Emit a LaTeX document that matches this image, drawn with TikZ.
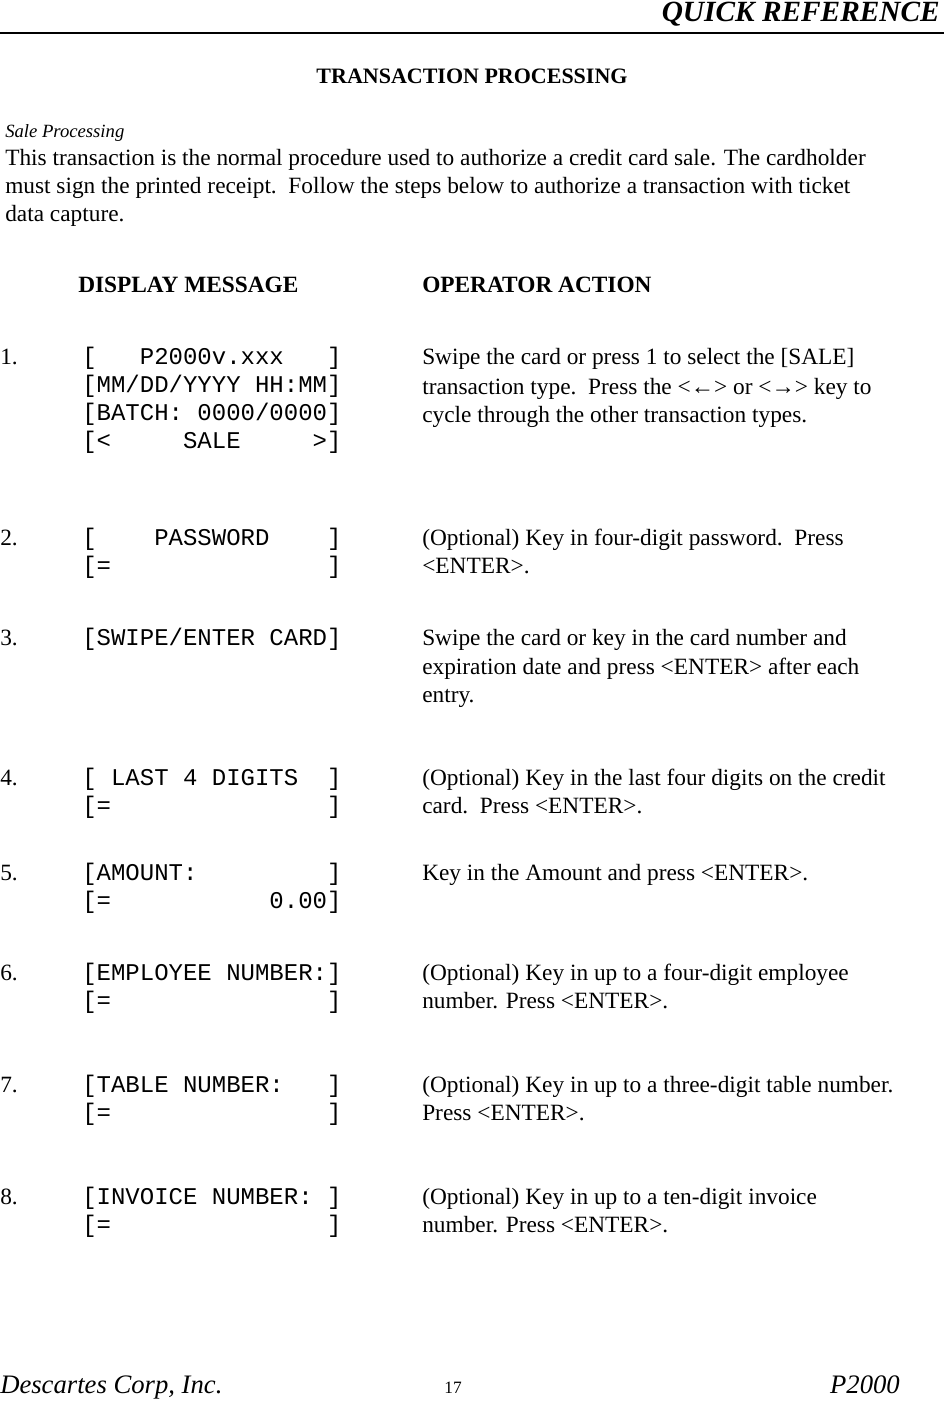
\documentclass[tikz,border=0pt]{standalone}
\usepackage{fontspec}
\setmainfont{Liberation Serif}
\setmonofont{Liberation Mono}
\begin{document}
\begin{tikzpicture}[x=0.75pt,y=-0.75pt,
  t/.style={anchor=base west,inner sep=0pt,font=\fontsize{17.5}{20}\selectfont},
  m/.style={anchor=base west,inner sep=0pt,font=\ttfamily\fontsize{18}{20}\selectfont}]
\useasboundingbox (0,0) rectangle (944,1401);
\node[anchor=base east,inner sep=0pt,font=\bfseries\itshape\fontsize{22}{24}\selectfont] (hd) at (940,22) {QUICK REFERENCE};
\draw[line width=0.8pt] (0,33) -- (944,33);
\node[anchor=base,inner sep=0pt,font=\bfseries\fontsize{16.5}{20}\selectfont] (ti) at (472,84) {TRANSACTION PROCESSING};
\node[anchor=base west,inner sep=0pt,font=\itshape\fontsize{14}{16}\selectfont] (sp) at (5,138) {Sale Processing};
\node[t] (b1) at (5,166) {This transaction is the normal procedure used to authorize a credit card sale. The cardholder};
\node[t] (b2) at (5,194) {must sign the printed receipt.\ \ Follow the steps below to authorize a transaction with ticket};
\node[t] (b3) at (5,222) {data capture.};
\node[t,font=\bfseries\fontsize{17.5}{20}\selectfont] (dm) at (78,292) {DISPLAY MESSAGE};
\node[t,font=\bfseries\fontsize{17.5}{20}\selectfont] (oa) at (422,292) {OPERATOR ACTION};
% 1
\node[t] (n1) at (0,364) {1.};
\node[m] at (82,364) {[~~~P2000v.xxx~~~]};
\node[m] at (82,392) {[MM/DD/YYYY HH:MM]};
\node[m] at (82,420) {[BATCH: 0000/0000]};
\node[m] at (82,448) {[<~~~~~SALE~~~~~>]};
\node[t] at (422,364) {Swipe the card or press 1 to select the [SALE]};
\node[t] at (422,394) {transaction type.\ \ Press the <←> or <→> key to};
\node[t] at (422,422) {cycle through the other transaction types.};
% 2
\node[t] at (0,545) {2.};
\node[m] at (82,545) {[~~~~PASSWORD~~~~]};
\node[m] at (82,573) {[=~~~~~~~~~~~~~~~]};
\node[t] at (422,545) {(Optional) Key in four-digit password.\ \ Press};
\node[t] at (422,573) {<ENTER>.};
% 3
\node[t] at (0,645) {3.};
\node[m] at (82,645) {[SWIPE/ENTER CARD]};
\node[t] at (422,645) {Swipe the card or key in the card number and};
\node[t] at (422,674) {expiration date and press <ENTER> after each};
\node[t] at (422,702) {entry.};
% 4
\node[t] at (0,785) {4.};
\node[m] at (82,785) {[ LAST 4 DIGITS~~]};
\node[m] at (82,813) {[=~~~~~~~~~~~~~~~]};
\node[t] at (422,785) {(Optional) Key in the last four digits on the credit};
\node[t] at (422,813) {card.\ \ Press <ENTER>.};
% 5
\node[t] at (0,880) {5.};
\node[m] at (82,880) {[AMOUNT:~~~~~~~~~]};
\node[m] at (82,908) {[=~~~~~~~~~~~0.00]};
\node[t] at (422,880) {Key in the Amount and press <ENTER>.};
% 6
\node[t] at (0,980) {6.};
\node[m] at (82,980) {[EMPLOYEE NUMBER:]};
\node[m] at (82,1008) {[=~~~~~~~~~~~~~~~]};
\node[t] at (422,980) {(Optional) Key in up to a four-digit employee};
\node[t] at (422,1008) {number. Press <ENTER>.};
% 7
\node[t] at (0,1092) {7.};
\node[m] at (82,1092) {[TABLE NUMBER:~~~]};
\node[m] at (82,1120) {[=~~~~~~~~~~~~~~~]};
\node[t] at (422,1092) {(Optional) Key in up to a three-digit table number.};
\node[t] at (422,1120) {Press <ENTER>.};
% 8
\node[t] at (0,1204) {8.};
\node[m] at (82,1204) {[INVOICE NUMBER: ]};
\node[m] at (82,1232) {[=~~~~~~~~~~~~~~~]};
\node[t] at (422,1204) {(Optional) Key in up to a ten-digit invoice};
\node[t] at (422,1232) {number. Press <ENTER>.};
% footer
\node[anchor=base west,inner sep=0pt,font=\itshape\fontsize{20}{22}\selectfont] (f1) at (0,1393) {Descartes Corp, Inc.};
\node[anchor=base,inner sep=0pt,font=\fontsize{13}{15}\selectfont] (f2) at (453,1393) {17};
\node[anchor=base east,inner sep=0pt,font=\itshape\fontsize{20}{22}\selectfont] (f3) at (900,1393) {P2000};
\end{tikzpicture}
\end{document}
